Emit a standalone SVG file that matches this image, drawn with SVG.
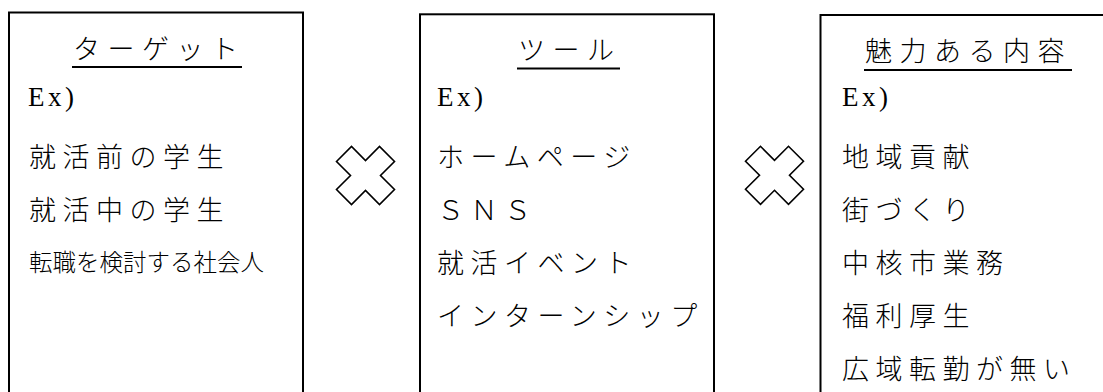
<svg xmlns="http://www.w3.org/2000/svg" width="1103" height="392" viewBox="0 0 1103 392">
<style>
.box{fill:#fff;stroke:#000;stroke-width:2}
.t{font-family:"Noto Sans CJK JP","Noto Sans CJK SC",sans-serif;font-size:27px;font-weight:300;letter-spacing:6.5px;fill:#000}
.ttl{font-family:"Noto Sans CJK JP","Noto Sans CJK SC",sans-serif;font-size:27px;font-weight:300;letter-spacing:7.5px;fill:#000}
.ex{font-family:"Liberation Serif",serif;font-size:27px;letter-spacing:3.5px;fill:#000}
.sm{font-family:"Noto Sans CJK JP","Noto Sans CJK SC",sans-serif;font-size:23.5px;font-weight:300;fill:#000}
.ul{stroke:#000;stroke-width:2}
.x{fill:#fff;stroke:#000;stroke-width:1.6;stroke-linejoin:miter}
</style>
<defs>
<polygon id="cross" points="-29,-14 -14,-29 0,-15 14,-29 29,-14 15,0 29,14 14,29 0,15 -14,29 -29,14 -15,0"/>
</defs>
<rect width="1103" height="392" fill="#fff"/>
<g id="target">
<rect class="box" x="9" y="12.5" width="294" height="400"/>
<text class="ttl" x="73" y="59">ターゲット</text>
<line class="ul" x1="72" y1="67" x2="242" y2="67"/>
<text class="ex" x="28" y="106">Ex)</text>
<text class="t" x="29" y="167">就活前の学生</text>
<text class="t" x="29" y="220">就活中の学生</text>
<text class="sm" x="29" y="271">転職を検討する社会人</text>
</g>
<g id="tool">
<rect class="box" x="420" y="14.3" width="294" height="400"/>
<text class="ttl" x="518" y="60">ツール</text>
<line class="ul" x1="517" y1="68.5" x2="620" y2="68.5"/>
<text class="ex" x="437" y="106">Ex)</text>
<text class="t" x="437" y="167">ホームページ</text>
<text class="t" x="437" y="220">ＳＮＳ</text>
<text class="t" x="437" y="273">就活イベント</text>
<text class="t" x="437" y="326">インターンシップ</text>
</g>
<g id="appeal">
<rect class="box" x="820.5" y="15" width="300" height="400"/>
<text class="ttl" x="865" y="61">魅力ある内容</text>
<line class="ul" x1="864" y1="70" x2="1072" y2="70"/>
<text class="ex" x="842" y="106">Ex)</text>
<text class="t" x="842" y="167">地域貢献</text>
<text class="t" x="842" y="220">街づくり</text>
<text class="t" x="842" y="273">中核市業務</text>
<text class="t" x="842" y="326">福利厚生</text>
<text class="t" x="842" y="379">広域転勤が無い</text>
</g>
<g id="connectors">
<use href="#cross" class="x" transform="translate(365.5,175.5)"/>
<use href="#cross" class="x" transform="translate(774.5,175.3)"/>
</g>
</svg>
